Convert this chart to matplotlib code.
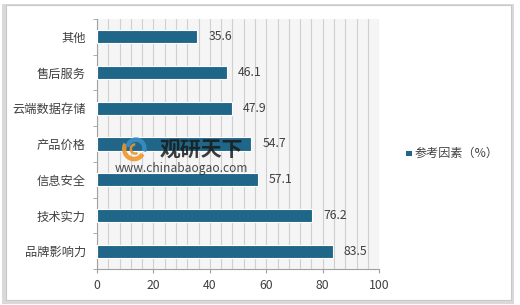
import matplotlib
matplotlib.use("Agg")
import matplotlib.pyplot as plt
from matplotlib.patches import Rectangle, Wedge
from matplotlib.ticker import MultipleLocator

plt.rcParams['font.family'] = ['Noto Sans CJK SC', 'DejaVu Sans']

categories = ['品牌影响力', '技术实力', '信息安全', '产品价格', '云端数据存储', '售后服务', '其他']
values = [83.5, 76.2, 57.1, 54.7, 47.9, 46.1, 35.6]
series_name = '参考因素（%）'
xticks = [0, 20, 40, 60, 80, 100]

bar_color = '#1f6688'
text_color = '#404040'

fig = plt.figure(figsize=(5.2, 3.05), dpi=100)
fig.patch.set_facecolor('#ffffff')
# outer frame
fig.patches.append(Rectangle((0.004, 0.003), 0.985, 0.985, transform=fig.transFigure,
                             facecolor='#d9d9d9', edgecolor='none', zorder=-3))
fig.patches.append(Rectangle((0.012, 0.018), 0.97, 0.965, transform=fig.transFigure,
                             facecolor='white', edgecolor='#c8c8c8', lw=0.8, zorder=-2))

ax = fig.add_axes([0.1865, 0.118, 0.5425, 0.82])
ax.set_facecolor('#f5f5f5')
y = list(range(len(categories)))
bars = ax.barh(y, values, height=0.37, color=bar_color, edgecolor='white', linewidth=0.8, zorder=3)
ax.set_xlim(0, 100)
ax.set_ylim(-0.5, len(categories) - 0.5)
ax.xaxis.set_minor_locator(MultipleLocator(4))
ax.set_xticks(xticks)
ax.grid(axis='x', which='both', color='#d0d0d0', lw=0.8, zorder=0)
ax.set_yticks(y)
ax.set_yticklabels(categories, fontsize=8.8, color=text_color)
ax.set_yticks([i - 0.5 for i in range(len(categories) + 1)], minor=True)
ax.tick_params(axis='y', which='major', length=0, pad=8)
ax.tick_params(axis='y', which='minor', length=3, color='#a0a0a0')
ax.tick_params(axis='x', which='major', labelsize=8.8, colors=text_color, length=3, color='#a0a0a0', pad=4)
ax.tick_params(axis='x', which='minor', length=0)
for s in ['top', 'right']:
    ax.spines[s].set_visible(False)
ax.spines['left'].set_color('#a0a0a0')
ax.spines['bottom'].set_color('#a0a0a0')
ax.spines['left'].set_linewidth(0.8)
ax.spines['bottom'].set_linewidth(0.8)

for yi, v in zip(y, values):
    ax.annotate(f'{v}', (v, yi), xytext=(8, 0), textcoords='offset points',
                ha='left', va='center', fontsize=8.8, color=text_color, zorder=5)

# watermark
fig.text(0.388, 0.508, '观研天下', fontsize=15, fontweight='bold', color='#1a1a1a', alpha=0.85,
         ha='center', va='center', zorder=10)
fig.text(0.349, 0.446, 'www.chinabaogao.com', fontsize=8.6, color='#2a2a2a', alpha=0.85,
         ha='center', va='center', zorder=10)
lax = fig.add_axes([115/520, 1-162/305, 38/520, 26/305], zorder=10)
lax.set_xlim(-1.5, 1.5)
lax.set_ylim(-1, 1)
lax.axis('off')
lax.add_patch(Wedge((0, 0), 0.95, 150, 330, width=0.35, facecolor='#f0962a', edgecolor='none', alpha=0.9))
lax.add_patch(Wedge((0.15, 0.05), 0.85, -20, 170, width=0.35, facecolor='#3b8fc4', edgecolor='none', alpha=0.9))
lax.add_patch(Wedge((0.1, 0), 0.45, 90, 300, width=0.2, facecolor='#f0962a', edgecolor='none', alpha=0.9))

# legend
fig.patches.append(Rectangle((0.781, 0.487), 0.011, 0.019, transform=fig.transFigure,
                             facecolor=bar_color, edgecolor='none', zorder=5))
fig.text(0.797, 0.497, series_name, fontsize=8.7, color=text_color, ha='left', va='center')

fig.savefig('out.png', dpi=100)
